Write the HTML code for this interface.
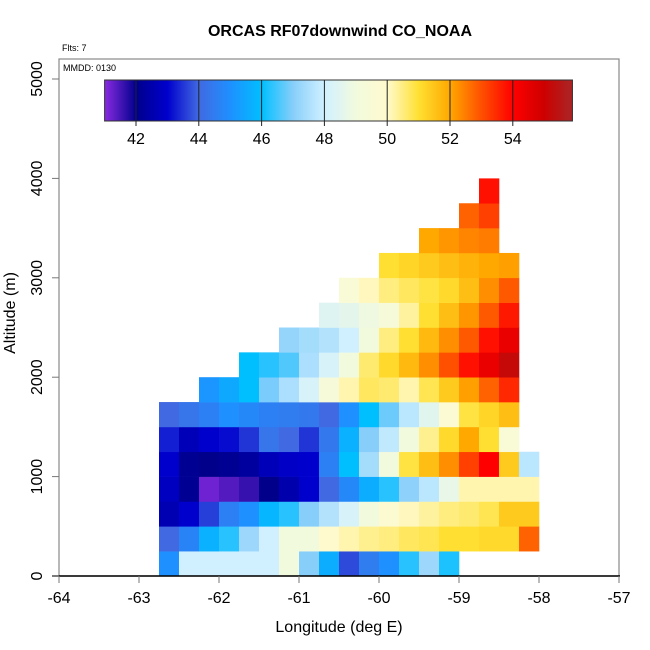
<!DOCTYPE html>
<html><head><meta charset="utf-8"><style>
body{margin:0;background:#fff;}
svg{display:block;font-family:"Liberation Sans",sans-serif;}
</style></head><body>
<svg id="chart" width="650" height="650" viewBox="0 0 650 650">
<rect width="650" height="650" fill="#fff"/>
<text x="340" y="36" font-size="16" font-weight="bold" text-anchor="middle">ORCAS RF07downwind CO_NOAA</text>
<text x="62" y="51" font-size="9">Flts: 7</text>
<g id="cells"></g>
<rect x="59" y="59" width="560" height="517" fill="none" stroke="#888" stroke-width="1.2"/>
<text x="63" y="71" font-size="9">MMDD: 0130</text>
<defs><linearGradient id="cbg" x1="0" x2="1" y1="0" y2="0"></linearGradient></defs>
<rect id="cbar" y="80" height="41" fill="url(#cbg)" stroke="#333" stroke-width="1"/>
<g id="cbticks"></g>
<line x1="52" y1="576" x2="620" y2="576" stroke="#000" stroke-width="1.5"/>
<g id="xt"></g>
<g id="yt"></g>
<text x="339" y="632" font-size="16" text-anchor="middle">Longitude (deg E)</text>
<text transform="translate(15,313) rotate(-90)" font-size="16" text-anchor="middle">Altitude (m)</text>
</svg>
<script>
const lonStart = -62.75, lonStep = 0.25;
const altStep = 250;
const xTicks = [-64,-63,-62,-61,-60,-59,-58,-57];
const yTicks = [0,1000,2000,3000,4000,5000];
const cbTicks = [42,44,46,48,50,52,54];
const cbMin = 41, cbMax = 55.9;
// rows from bottom (0-250 m) upward; null = no data
const row0 = [45,48,48,48,48,48,49,47,45.6,43.7,44.5,45,46.3,47.3,46.2,null,null,null,null];
const row1 = [44,44.7,45.7,46.3,47.3,48,49,49,50,50.2,50.4,50.5,50.7,50.8,51,51,51.1,51.1,52.8];
const row2 = [42.6,43,43.6,44.6,45,45.8,46.3,47,47.6,48.2,49,49.8,50.1,50.3,50.5,50.6,50.8,51.4,51.4];
const row3 = [42.8,42.1,41.2,41.4,41.6,42,42.5,43,44,44.8,45.6,46.3,47.1,47.7,48.7,50.2,50.2,50.2,50.2];
const row4 = [43,42.1,42,42.1,42.3,42.7,42.9,43,44.6,46,47.4,49,50.9,51.6,52.3,53.2,54,51.4,47.7];
const row5 = [43.3,42.7,43,43.1,43.5,44.3,44,43.5,44.4,45.7,47,47.8,49,50.4,51.1,52,51,49.5,null];
const row6 = [44,44.3,44.6,45,44.8,44.6,44.5,44.4,44,45,46,46.8,47.7,48.5,49.7,50.9,51.2,51.6,null];
const row7 = [null,null,45.1,45.5,46,46.9,47.5,48.2,49.3,50.2,50.7,50.6,50.2,50.8,51.4,52.1,52.8,53.5,null];
const row8 = [null,null,null,null,46,46.3,46.6,47.5,48.2,49,50.6,51.1,51.7,52.3,53,53.8,54.4,55.2,null];
const row9 = [null,null,null,null,null,null,47.2,47.4,47.6,48,49,50.5,51,51.7,52.3,52.9,53.8,54.4,null];
const row10 = [null,null,null,null,null,null,null,null,48.4,48.6,48.9,49.3,50.3,51,51.6,52.2,52.9,53.7,null];
const row11 = [null,null,null,null,null,null,null,null,null,49.5,50.1,50.5,50.7,50.9,51.1,51.6,52.3,52.9,null];
const row12 = [null,null,null,null,null,null,null,null,null,null,null,51,51.2,51.4,51.6,51.8,52,52.1,null];
const row13 = [null,null,null,null,null,null,null,null,null,null,null,null,null,52,52.2,52.4,52.5,null,null];
const row14 = [null,null,null,null,null,null,null,null,null,null,null,null,null,null,null,52.8,53.2,null,null];
const row15 = [null,null,null,null,null,null,null,null,null,null,null,null,null,null,null,null,53.8,null,null];
const rows = [row0,row1,row2,row3,row4,row5,row6,row7,row8,row9,row10,row11,row12,row13,row14,row15];

const NS="http://www.w3.org/2000/svg";
const xS = lon => 59 + (lon + 64) * 80;
const yS = alt => 576 - alt * 0.0994;
const cbX = v => 104.6 + (v - cbMin) * 31.4;
const stops = [[41,[138,43,226]],[42,[0,0,139]],[43,[0,0,205]],[44,[65,105,225]],[45,[30,144,255]],[46,[0,191,255]],[47,[135,206,250]],[48,[208,240,255]],[49,[242,250,222]],[50,[255,250,205]],[51,[255,224,50]],[52,[255,168,0]],[53,[255,80,0]],[54,[255,0,0]],[55,[205,0,0]],[56,[165,42,42]]];
function col(v){
  if(v<=stops[0][0]) return 'rgb('+stops[0][1]+')';
  for(let i=1;i<stops.length;i++){
    if(v<=stops[i][0]){
      const a=stops[i-1],b=stops[i],t=(v-a[0])/(b[0]-a[0]);
      return 'rgb('+a[1].map((c,k)=>Math.round(c+(b[1][k]-c)*t)).join(',')+')';
    }
  }
  return 'rgb('+stops[stops.length-1][1]+')';
}
function mk(tag,attrs,parent){const e=document.createElementNS(NS,tag);for(const k in attrs)e.setAttribute(k,attrs[k]);parent.appendChild(e);return e;}
const cells=document.getElementById('cells');
rows.forEach((r,ri)=>{
  r.forEach((v,ci)=>{
    if(v===null) return;
    const x0=xS(lonStart+ci*lonStep), x1=xS(lonStart+(ci+1)*lonStep);
    const y0=yS((ri+1)*altStep), y1=yS(ri*altStep);
    const e=mk('rect',{x:x0,y:y0,width:x1-x0+0.3,height:y1-y0+0.3,fill:col(v)},cells);
    
    
  });
});
const g=document.getElementById('cbg');
for(let v=41; v<=55.9; v+=0.25){
  mk('stop',{offset:((v-cbMin)/(cbMax-cbMin)),'stop-color':col(v)},g);
}
const cb=document.getElementById('cbar');
cb.setAttribute('x',cbX(cbMin));cb.setAttribute('width',cbX(cbMax)-cbX(cbMin));
const cbt=document.getElementById('cbticks');
cbTicks.forEach(t=>{
  const l=mk('line',{x1:cbX(t),x2:cbX(t),y1:80,y2:126,stroke:'#222','stroke-width':1},cbt);
  
  
  const tx=mk('text',{x:cbX(t),y:144,'font-size':16,'text-anchor':'middle'},cbt);
  tx.textContent=t;
  
  
});
const xt=document.getElementById('xt');
xTicks.forEach(t=>{
  const l=mk('line',{x1:xS(t),x2:xS(t),y1:576,y2:583,stroke:'#777','stroke-width':1},xt);
  
  
  const tx=mk('text',{x:xS(t),y:603,'font-size':16,'text-anchor':'middle'},xt);
  tx.textContent=t;
  
  
});
const yt=document.getElementById('yt');
yTicks.forEach(t=>{
  const l=mk('line',{x1:52,x2:59,y1:yS(t),y2:yS(t),stroke:'#777','stroke-width':1},yt);
  
  
  const tx=mk('text',{transform:'translate(42,'+yS(t)+') rotate(-90)','font-size':16,'text-anchor':'middle'},yt);
  tx.textContent=t;
  
  
});
</script>
</body></html>
